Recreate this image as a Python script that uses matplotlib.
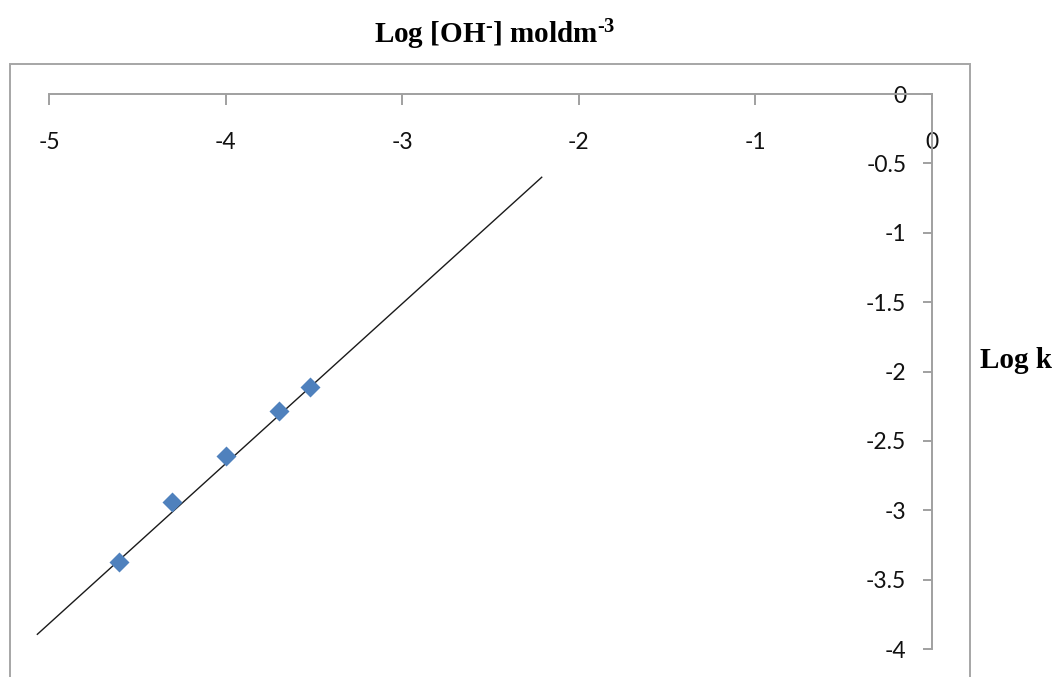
import matplotlib
matplotlib.use("Agg")
import matplotlib.pyplot as plt
import numpy as np
from matplotlib.patches import Rectangle
from matplotlib.ticker import FuncFormatter

plt.rcParams['axes.unicode_minus'] = False
plt.rcParams['mathtext.fontset'] = 'custom'
plt.rcParams['mathtext.rm'] = 'Liberation Serif:bold'
plt.rcParams['mathtext.bf'] = 'Liberation Serif:bold'
plt.rcParams['mathtext.default'] = 'rm'

# log [OH-] against log k
log_oh = [-4.602, -4.301, -4.000, -3.699, -3.523]
log_k = [-3.375, -2.938, -2.607, -2.283, -2.114]

# trend line end points
trend_x = [-5.066, -2.210]
trend_y = [-3.894, -0.600]

x_ticks = [-5, -4, -3, -2, -1, 0]
y_ticks = [0, -0.5, -1, -1.5, -2, -2.5, -3, -3.5, -4]

W, H = 1058, 677
fig = plt.figure(figsize=(W / 100, H / 100), dpi=100)

# axes box in pixels (left, right, top, bottom)
left, right, top, bottom = 20, 945, 75, 670
ax = fig.add_axes([left / W, 1 - bottom / H, (right - left) / W, (bottom - top) / H])
ax.patch.set_alpha(0)

x0, xs = 932, 176.6   # pixel of x=0, pixels per unit
y0, ys = 94, 138.75   # pixel of y=0, pixels per unit
ax.set_xlim((left - x0) / xs, (right - x0) / xs)
ax.set_ylim((y0 - bottom) / ys, (y0 - top) / ys)

axis_col = '#A0A0A0'
for s in ['top', 'right']:
    ax.spines[s].set_visible(False)
ax.spines['bottom'].set_position(('data', 0))
ax.spines['left'].set_position(('data', 0))
ax.spines['bottom'].set_bounds(-5, 0)
ax.spines['left'].set_bounds(-4, 0)
for s in ['bottom', 'left']:
    ax.spines[s].set_color(axis_col)
    ax.spines[s].set_linewidth(1.4)

fmt = FuncFormatter(lambda v, p: '%g' % v)
ax.set_xticks(x_ticks)
ax.set_yticks(y_ticks)
ax.xaxis.set_major_formatter(fmt)
ax.yaxis.set_major_formatter(fmt)
ax.tick_params(axis='x', direction='out', length=8, width=1.4, color=axis_col,
               pad=19, labelsize=16.5, labelcolor='#111111')
ax.tick_params(axis='y', direction='out', length=6.5, width=1.4, color=axis_col,
               pad=12, labelsize=16.5, labelcolor='#111111')
for lab in ax.get_xticklabels() + ax.get_yticklabels():
    lab.set_fontfamily('Lato')

ax.plot(trend_x, trend_y, color='#1a1a1a', lw=1.0, zorder=2)
ax.plot(log_oh, log_k, 'D', color='#4F81BD', markersize=10.5, mec='none', zorder=3)

# chart border
fig.add_artist(Rectangle((10 / W, -0.01), 960 / W, (H - 64) / H + 0.01,
                         transform=fig.transFigure, fill=False,
                         edgecolor='#A6A6A6', lw=1.4))

fig.text(495 / W, 1 - 43 / H, r'Log [OH$^{\text{-}}$] moldm$^{\text{-3}}$',
         ha='center', va='baseline', fontsize=21,
         fontfamily='Liberation Serif', fontweight='bold')
fig.text(980 / W, 1 - 368 / H, 'Log k', ha='left', va='baseline',
         fontsize=21, fontfamily='Liberation Serif', fontweight='bold')

fig.savefig('out.png', dpi=100)
